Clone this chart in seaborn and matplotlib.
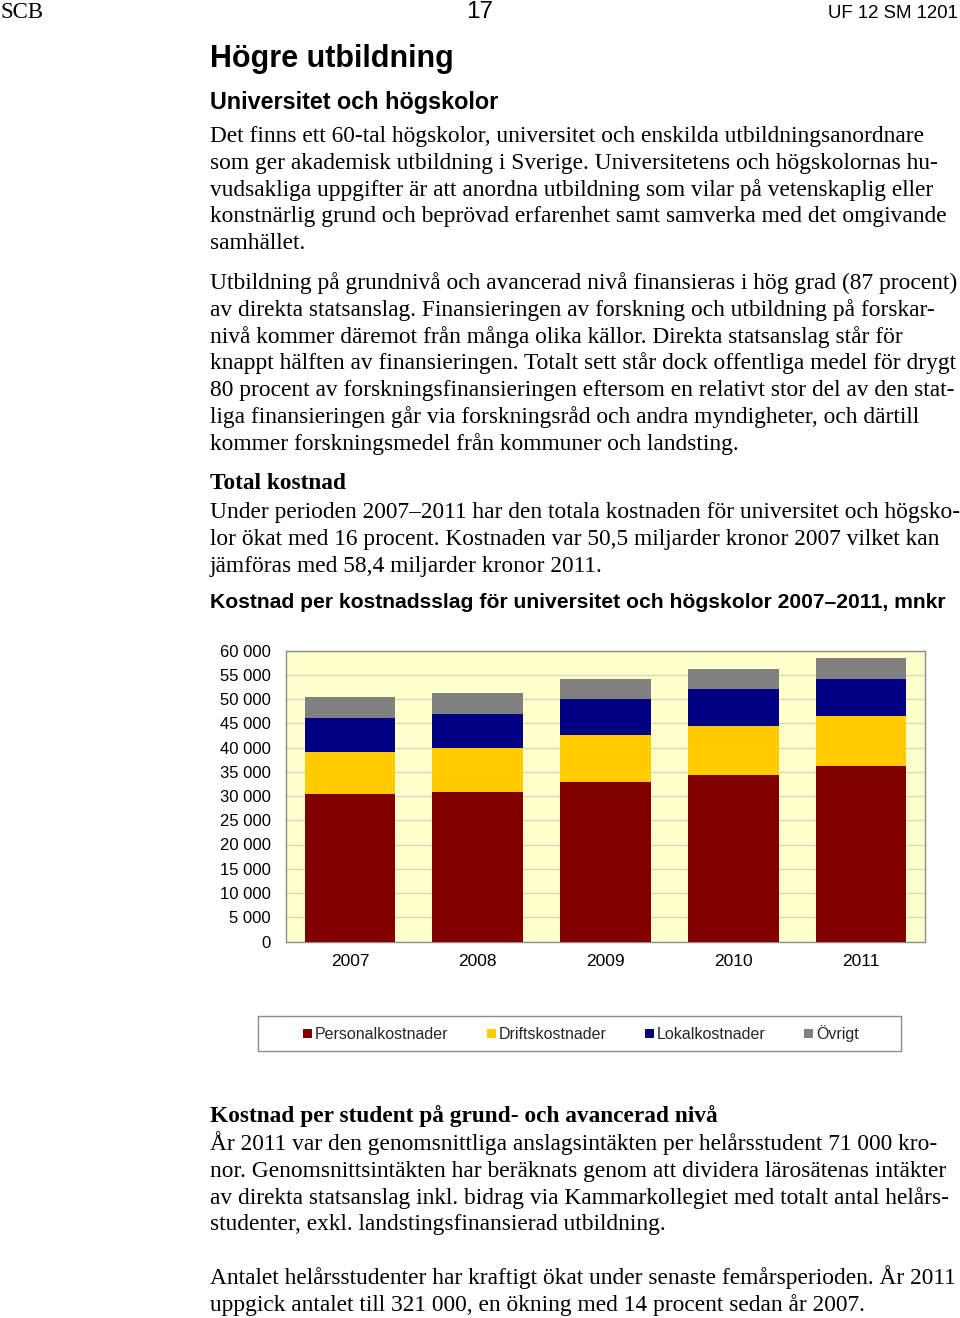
import matplotlib
matplotlib.use("Agg")
import matplotlib.pyplot as plt
import seaborn as sns
import numpy as np
import pandas as pd
from matplotlib.patches import Patch, Rectangle
from matplotlib.ticker import FuncFormatter

# ---------------- data ----------------
years = ["2007", "2008", "2009", "2010", "2011"]
personal = [30500, 30900, 32800, 34300, 36100]
drift = [8500, 8900, 9700, 10200, 10400]
lokal = [7100, 7150, 7500, 7500, 7600]
ovrigt = [4400, 4350, 4200, 4200, 4300]
series_names = ["Personalkostnader", "Driftskostnader", "Lokalkostnader", "Övrigt"]
series_colors = ["#800000", "#FFCC00", "#000080", "#808080"]
yticks = [0, 5000, 10000, 15000, 20000, 25000, 30000, 35000, 40000, 45000, 50000, 55000, 60000]

sns.set_theme(style="white")
plt.rcParams["font.family"] = ["Liberation Sans", "DejaVu Sans"]

W, H = 960, 1318
fig = plt.figure(figsize=(W / 100, H / 100), dpi=100)
fig.patch.set_facecolor("white")


def T(x, y, s, family="Liberation Serif", size=15.5, weight="normal", ha="left"):
    fig.text(x / W, 1 - y / H, s, ha=ha, va="baseline", fontsize=size,
             fontweight=weight, family=[family, "DejaVu Sans"], color="black")


# ---------------- page text ----------------
T(0, 18, "SCB", size=16.5)
T(480, 18, "17", family="Liberation Sans", size=17.5, ha="center")
T(958, 18, "UF 12 SM 1201", family="Liberation Sans", size=13.4, ha="right")
T(210, 67, "Högre utbildning", family="Liberation Sans", size=22, weight="bold")
T(210, 109, "Universitet och högskolor", family="Liberation Sans", size=16.8, weight="bold")

BODY = 16.8
para1 = [
    "Det finns ett 60-tal högskolor, universitet och enskilda utbildningsanordnare",
    "som ger akademisk utbildning i Sverige. Universitetens och högskolornas hu-",
    "vudsakliga uppgifter är att anordna utbildning som vilar på vetenskaplig eller",
    "konstnärlig grund och beprövad erfarenhet samt samverka med det omgivande",
    "samhället.",
]
for i, line in enumerate(para1):
    T(210, 142 + i * 26.8, line, size=BODY)

para2 = [
    "Utbildning på grundnivå och avancerad nivå finansieras i hög grad (87 procent)",
    "av direkta statsanslag. Finansieringen av forskning och utbildning på forskar-",
    "nivå kommer däremot från många olika källor. Direkta statsanslag står för",
    "knappt hälften av finansieringen. Totalt sett står dock offentliga medel för drygt",
    "80 procent av forskningsfinansieringen eftersom en relativt stor del av den stat-",
    "liga finansieringen går via forskningsråd och andra myndigheter, och därtill",
    "kommer forskningsmedel från kommuner och landsting.",
]
for i, line in enumerate(para2):
    T(210, 289 + i * 26.8, line, size=BODY)

T(210, 489, "Total kostnad", size=BODY, weight="bold")
para3 = [
    "Under perioden 2007–2011 har den totala kostnaden för universitet och högsko-",
    "lor ökat med 16 procent. Kostnaden var 50,5 miljarder kronor 2007 vilket kan",
    "jämföras med 58,4 miljarder kronor 2011.",
]
for i, line in enumerate(para3):
    T(210, 518 + i * 27, line, size=BODY)

T(210, 608, "Kostnad per kostnadsslag för universitet och högskolor 2007–2011, mnkr",
  family="Liberation Sans", size=15.2, weight="bold")

T(210, 1122, "Kostnad per student på grund- och avancerad nivå", size=BODY, weight="bold")
para4 = [
    "År 2011 var den genomsnittliga anslagsintäkten per helårsstudent 71 000 kro-",
    "nor. Genomsnittsintäkten har beräknats genom att dividera lärosätenas intäkter",
    "av direkta statsanslag inkl. bidrag via Kammarkollegiet med totalt antal helårs-",
    "studenter, exkl. landstingsfinansierad utbildning.",
]
for i, line in enumerate(para4):
    T(210, 1150 + i * 26.8, line, size=BODY)
para5 = [
    "Antalet helårsstudenter har kraftigt ökat under senaste femårsperioden. År 2011",
    "uppgick antalet till 321 000, en ökning med 14 procent sedan år 2007.",
]
for i, line in enumerate(para5):
    T(210, 1284 + i * 27, line, size=BODY)

# ---------------- chart ----------------
ax_l, ax_r, ax_t, ax_b = 286, 925, 650.5, 941.5
ax = fig.add_axes([ax_l / W, 1 - ax_b / H, (ax_r - ax_l) / W, (ax_b - ax_t) / H])
ax.set_facecolor("#FFFFCC")

stack = [personal, drift, lokal, ovrigt]
cum = np.cumsum(np.array(stack), axis=0)
# draw cumulative totals from top series down so each layer shows its segment
for k in range(len(stack) - 1, -1, -1):
    df = pd.DataFrame({"year": years, "value": cum[k]})
    sns.barplot(data=df, x="year", y="value", order=years, color=series_colors[k],
                saturation=1, width=0.71, errorbar=None, ax=ax, linewidth=0, zorder=3)

ax.set_xlim(-0.5, len(years) - 0.5)
ax.set_ylim(0, 60000)
ax.set_yticks(yticks)
ax.yaxis.set_major_formatter(FuncFormatter(lambda v, p: f"{int(v):,}".replace(",", " ")))
ax.grid(axis="y", color="#d8d8c0", linewidth=1, zorder=0)
ax.set_axisbelow(True)
ax.set_xlabel("")
ax.set_ylabel("")
for s in ax.spines.values():
    s.set_visible(True)
    s.set_color("#8c8c8c")
    s.set_linewidth(1)
ax.tick_params(axis="y", length=0, pad=11, labelsize=12, labelcolor="black")
ax.tick_params(axis="x", length=0, pad=9, labelsize=12.5, labelcolor="black")

# ---------------- legend ----------------
fig.patches.append(Rectangle((258 / W, 1 - 1051 / H), (901 - 258) / W, 35 / H,
                             transform=fig.transFigure, facecolor="white",
                             edgecolor="#8c8c8c", linewidth=1, zorder=0))
handles = [Patch(facecolor=c, edgecolor="none", label=n) for c, n in zip(series_colors, series_names)]
fig.legend(handles=handles, loc="center", bbox_to_anchor=(581 / W, 1 - 1033.5 / H),
           ncol=4, frameon=False, fontsize=11.5, handlelength=0.55, handleheight=0.55,
           handletextpad=0.2, columnspacing=2.4, borderpad=0)

fig.savefig("out.png", dpi=100, facecolor="white")
